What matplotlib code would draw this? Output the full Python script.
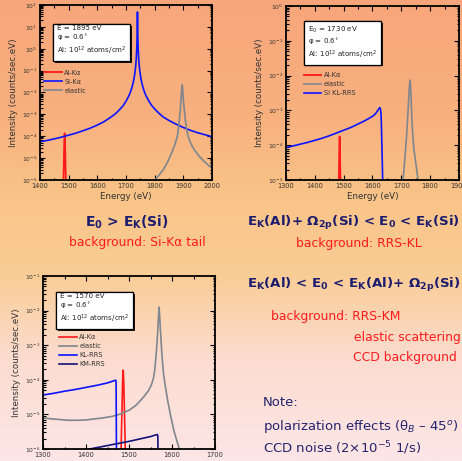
import numpy as np
import matplotlib
matplotlib.use("Agg")
import matplotlib.pyplot as plt
import matplotlib.patheffects as pe
from matplotlib.colors import LinearSegmentedColormap
from matplotlib.ticker import LogLocator, NullFormatter, MultipleLocator

# panel 1 : E = 1895 eV  (intensities given as log10)
p1_sik_e = [1400, 1425, 1450, 1475, 1500, 1525, 1550, 1575, 1600, 1625, 1650, 1665, 1680, 1690,
            1700, 1710, 1715, 1720, 1725, 1728, 1730, 1732, 1734, 1735, 1736, 1737, 1738, 1739,
            1739.5, 1740, 1740.5, 1741, 1742, 1743, 1744, 1745, 1746, 1748, 1750, 1752, 1755,
            1760, 1765, 1770, 1780, 1790, 1800, 1815, 1830, 1850, 1875, 1900, 1925, 1950, 1975, 2000]
p1_sik_log = [-4.25, -4.19, -4.12, -4.04, -3.95, -3.86, -3.75, -3.63, -3.49, -3.32, -3.10, -2.95, -2.75, -2.60,
              -2.40, -2.15, -2.00, -1.80, -1.55, -1.36, -1.19, -1.00, -0.75, -0.59, -0.40, -0.15, 0.20, 0.75,
              1.22, 1.68, 1.22, 0.75, 0.20, -0.15, -0.40, -0.59, -0.75, -1.00, -1.19, -1.36, -1.55,
              -1.80, -2.00, -2.15, -2.40, -2.60, -2.75, -2.95, -3.12, -3.28, -3.45, -3.60, -3.73, -3.84, -3.93, -4.02]
p1_el_e = [1790, 1801, 1815, 1830, 1845, 1859, 1870, 1879, 1883, 1886, 1889, 1891, 1893, 1894.5, 1896,
           1897.5, 1899, 1901, 1904, 1907, 1911, 1917, 1925, 1935, 1947, 1960, 1975, 1990, 2000]
p1_el_log = [-6.3, -6.0, -5.78, -5.53, -5.18, -4.77, -4.40, -4.01, -3.65, -3.25, -2.85, -2.49, -2.10, -1.80, -1.65,
             -1.80, -2.10, -2.49, -2.90, -3.25, -3.65, -4.01, -4.30, -4.55, -4.77, -4.98, -5.18, -5.35, -5.45]
p1_al_e = [1481, 1483, 1484, 1485, 1486, 1487, 1488, 1489, 1491]
p1_al_log = [-6.5, -5.3, -4.6, -4.1, -3.87, -4.1, -4.6, -5.3, -6.5]

# panel 2 : E0 = 1730 eV
p2_kl_e = [1300, 1325, 1350, 1375, 1400, 1425, 1450, 1475, 1500, 1525, 1550, 1575, 1600, 1610,
           1617, 1622, 1625, 1627, 1629, 1630.5, 1632, 1634, 1636]
p2_kl_log = [-4.07, -4.02, -3.97, -3.92, -3.86, -3.80, -3.73, -3.65, -3.57, -3.49, -3.39, -3.29, -3.17, -3.10,
             -3.02, -2.95, -2.92, -2.94, -3.05, -3.3, -3.8, -4.5, -5.3]
p2_el_e = [1700, 1706, 1710, 1714, 1718, 1721, 1724, 1727, 1729, 1730, 1731, 1733, 1735, 1737, 1740,
           1744, 1750, 1758, 1765]
p2_el_log = [-5.6, -5.0, -4.6, -4.2, -3.75, -3.35, -2.9, -2.45, -2.2, -2.13, -2.2, -2.5, -2.9, -3.3, -3.75,
             -4.15, -4.5, -5.0, -5.5]
p2_al_e = [1482, 1484, 1485, 1486, 1487, 1488, 1490]
p2_al_log = [-5.4, -4.6, -4.0, -3.75, -4.0, -4.6, -5.4]

# panel 3 : E = 1570 eV
p3_kl_e = [1300, 1325, 1350, 1375, 1400, 1425, 1450, 1469, 1470, 1471]
p3_kl_log = [-4.44, -4.39, -4.33, -4.28, -4.22, -4.16, -4.09, -4.01, -4.06, -6.5]
p3_km_e = [1380, 1409, 1450, 1500, 1550, 1566, 1567, 1568]
p3_km_log = [-6.15, -6.0, -5.90, -5.78, -5.64, -5.58, -5.62, -6.5]
p3_el_e = [1300, 1320, 1340, 1360, 1380, 1400, 1420, 1440, 1460, 1480, 1500, 1515, 1525, 1535, 1545,
           1552, 1557, 1560, 1563, 1565, 1567, 1568.5, 1570, 1571.5, 1573, 1575, 1577, 1580, 1584,
           1590, 1597, 1605, 1617, 1625]
p3_el_log = [-5.10, -5.13, -5.15, -5.17, -5.17, -5.16, -5.13, -5.10, -5.06, -4.99, -4.88, -4.75, -4.62, -4.48, -4.32,
             -4.15, -3.95, -3.70, -3.30, -2.95, -2.55, -2.20, -1.90, -2.20, -2.55, -2.95, -3.35, -3.80, -4.15,
             -4.60, -5.05, -5.50, -6.00, -6.40]
p3_al_e = [1481, 1482.5, 1484, 1485, 1486.5, 1488, 1489, 1490.5, 1492]
p3_al_log = [-6.4, -5.5, -4.7, -4.1, -3.72, -4.1, -4.7, -5.5, -6.4]

RED = "#ff1a1a"
BLUE = "#0a14ff"
GRAY = "#7f868e"
NAVY = "#12127a"
TXT = "#1c1c6e"
W, H = 462, 461

fig = plt.figure(figsize=(W / 100, H / 100), dpi=100)

# slide background gradient
bg = fig.add_axes([0, 0, 1, 1], zorder=-10)
cmap = LinearSegmentedColormap.from_list(
    "slide",
    [(0.0, "#f7a67b"), (0.25, "#f8b07f"), (0.43, "#f9c487"), (0.6, "#facd97"), (0.78, "#fcdcd0"), (1.0, "#fde6e6")])
bg.imshow(np.linspace(0, 1, 256)[:, None], aspect="auto", cmap=cmap, extent=[0, 1, 0, 1])
bg.set_axis_off()


def px_axes(l, t, r, b):
    return fig.add_axes([l / W, 1 - b / H, (r - l) / W, (b - t) / H])


def style(ax, xlim, ylim, xlabel=True):
    ax.set_facecolor("none")
    ax.set_yscale("log")
    ax.set_xlim(*xlim)
    ax.set_ylim(*ylim)
    ax.xaxis.set_major_locator(MultipleLocator(100))
    ax.xaxis.set_minor_locator(MultipleLocator(50))
    ax.yaxis.set_major_locator(LogLocator(base=10, numticks=20))
    ax.yaxis.set_minor_locator(LogLocator(base=10, subs=np.arange(2, 10), numticks=20))
    ax.yaxis.set_minor_formatter(NullFormatter())
    ax.tick_params(which="both", direction="in", top=True, right=True, colors="black",
                   labelcolor="#333333", width=0.8)
    ax.tick_params(which="major", length=3.5, labelsize=4.3, pad=2)
    ax.tick_params(which="minor", length=1.8)
    ax.tick_params(axis="x", labelsize=4.8)
    for s in ax.spines.values():
        s.set_linewidth(1.3)
    ax.set_ylabel("Intensity (counts/sec.eV)", fontsize=6.3, color="#333333", labelpad=3)
    if xlabel:
        ax.set_xlabel("Energy (eV)", fontsize=6.3, color="#333333", labelpad=2)


def info_box(ax, x, y, txt):
    t = ax.text(x, y, txt, transform=ax.transAxes, fontsize=5.1, va="top", ha="left",
                linespacing=1.2, color="#222222",
                bbox=dict(boxstyle="square,pad=0.5", fc="white", ec="black", lw=0.9))
    t.get_bbox_patch().set_path_effects(
        [pe.withSimplePatchShadow(offset=(1.2, -1.2), shadow_rgbFace="black", alpha=0.9), pe.Normal()])


def lg(vals):
    return [10.0 ** v for v in vals]


leg_kw = dict(loc="upper left", frameon=False, fontsize=4.8, handlelength=2.6,
              labelspacing=0.45, handletextpad=0.4, labelcolor="#333333")

# ---- panel 1
ax1 = px_axes(40, 5, 212, 180)
ax1.plot(p1_al_e, lg(p1_al_log), color=RED, lw=1.3, label="Al-K\u03b1")
ax1.plot(p1_sik_e, lg(p1_sik_log), color=BLUE, lw=1.2, label="Si-K\u03b1")
ax1.plot(p1_el_e, lg(p1_el_log), color=GRAY, lw=1.2, label="elastic")
style(ax1, (1400, 2000), (1e-6, 1e2))
info_box(ax1, 0.099, 0.885, "E = 1895 eV\n\u03c6 = 0.6$^{\\circ}$\nAl: 10$^{12}$ atoms/cm$^{2}$")
ax1.legend(bbox_to_anchor=(-0.01, 0.665), **leg_kw)

# ---- panel 2
ax2 = px_axes(286, 6, 459, 180)
ax2.plot(p2_al_e, lg(p2_al_log), color=RED, lw=1.3, label="Al-K\u03b1")
ax2.plot(p2_el_e, lg(p2_el_log), color=GRAY, lw=1.2, label="elastic")
ax2.plot(p2_kl_e, lg(p2_kl_log), color=BLUE, lw=1.2, label="Si KL-RRS")
style(ax2, (1300, 1900), (1e-5, 1e0))
info_box(ax2, 0.127, 0.893, "E$_{0}$ = 1730 eV\n\u03c6 = 0.6$^{\\circ}$\nAl: 10$^{12}$ atoms/cm$^{2}$")
ax2.legend(bbox_to_anchor=(0.07, 0.655), **leg_kw)

# ---- panel 3
ax3 = px_axes(43, 276, 215, 449)
ax3.plot(p3_al_e, lg(p3_al_log), color=RED, lw=1.2, label="Al-K\u03b1")
ax3.plot(p3_el_e, lg(p3_el_log), color=GRAY, lw=1.2, label="elastic")
ax3.plot(p3_kl_e, lg(p3_kl_log), color=BLUE, lw=1.2, label="KL-RRS")
ax3.plot(p3_km_e, lg(p3_km_log), color=NAVY, lw=1.2, label="KM-RRS")
style(ax3, (1300, 1700), (1e-6, 1e-1), xlabel=False)
info_box(ax3, 0.099, 0.9, "E = 1570 eV\n\u03c6 = 0.6$^{\\circ}$\nAl: 10$^{12}$ atoms/cm$^{2}$")
ax3.legend(bbox_to_anchor=(0.06, 0.70), **leg_kw)


# ---- slide texts
def ftext(x, y, s, **kw):
    fig.text(x / W, 1 - y / H, s, va="center", **kw)


ftext(127, 222, "E$_\\mathbf{0}$ > E$_\\mathbf{K}$(Si)", ha="center", fontsize=10, weight="bold", color=TXT)
ftext(137, 242, "background: Si-K\u03b1 tail", ha="center", fontsize=8.9, color=RED)
ftext(247, 223, "E$_\\mathbf{K}$(Al)+ \u03a9$_\\mathbf{2p}$(Si) < E$_\\mathbf{0}$ < E$_\\mathbf{K}$(Si)",
      ha="left", fontsize=9.6, weight="bold", color=TXT)
ftext(296, 243, "background: RRS-KL", ha="left", fontsize=8.9, color=RED)
ftext(247, 285, "E$_\\mathbf{K}$(Al) < E$_\\mathbf{0}$ < E$_\\mathbf{K}$(Al)+ \u03a9$_\\mathbf{2p}$(Si)",
      ha="left", fontsize=9.6, weight="bold", color=TXT)
ftext(271, 316, "background: RRS-KM", ha="left", fontsize=8.9, color=RED)
ftext(354, 337, "elastic scattering", ha="left", fontsize=8.9, color=RED)
ftext(353, 357, "CCD background", ha="left", fontsize=8.9, color=RED)
ftext(263, 402, "Note:", ha="left", fontsize=9.5, color="#24246e")
ftext(263, 426, "polarization effects (\u03b8$_{B}$ \u2013 45$^{o}$)", ha="left", fontsize=9.5, color="#24246e")
ftext(263, 448, "CCD noise (2\u00d710$^{-5}$ 1/s)", ha="left", fontsize=9.5, color="#24246e")

fig.savefig("out.png", dpi=100)
